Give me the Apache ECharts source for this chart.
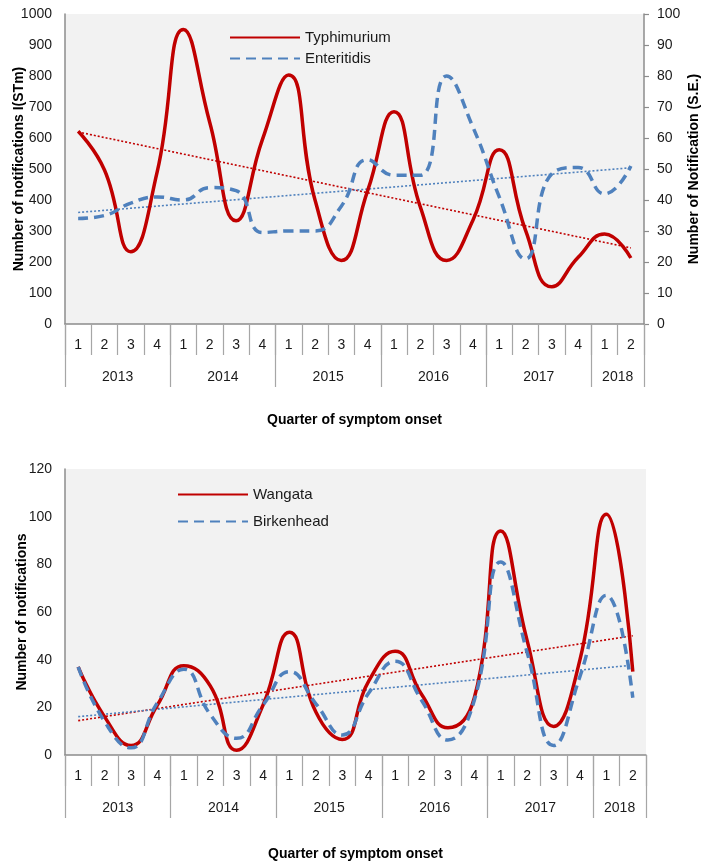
<!DOCTYPE html>
<html><head><meta charset="utf-8">
<script src="https://cdn.jsdelivr.net/npm/echarts@6/dist/echarts.min.js"></script>
<style>html,body{margin:0;padding:0;background:#fff}#c{width:714px;height:863px}</style>
</head><body><div id="c"></div>
<script>
// ---- data ----
const quarters = ['1','2','3','4','1','2','3','4','1','2','3','4','1','2','3','4','1','2','3','4','1','2'];
const years = ['2013','2014','2015','2016','2017','2018'];
const quartersPerYear = [4,4,4,4,4,2];

const typhimurium = [622,497,233,490,950,650,333,595,803,400,205,430,685,378,205,335,562,302,120,215,290,213];
const enteritidis = [34,35,39,41,40,44,43,29.5,30,30,38,53,48,48,80,63.5,41,21,48.5,50.5,42,51];
const wangata     = [37,16,4,21,37.5,29,2,21,51.5,18,6.5,31,43.5,25.5,11.4,24,94,48,12,40,101,35];
const birkenhead  = [37,14,3,22,36,17,7,21,35,21.5,8.4,26,39.3,23,6.3,23,81,43,4,33,67,24];

// ---- helpers ----
const yearBounds = [0];
quartersPerYear.forEach(n => yearBounds.push(yearBounds[yearBounds.length-1] + n));
const yearCenters = quartersPerYear.map((n,i) => yearBounds[i] + n/2);

function trend(arr){
  const n = arr.length;
  let sx=0, sy=0, sxx=0, sxy=0;
  arr.forEach((y,i)=>{sx+=i; sy+=y; sxx+=i*i; sxy+=i*y;});
  const b = (n*sxy - sx*sy)/(n*sxx - sx*sx);
  const a = (sy - b*sx)/n;
  return [[0.5, a], [n-0.5, a + b*(n-1)]];
}

const FONT = 'Liberation Sans';
const axisGray = '#8c8c8c';
const tickGray = '#a6a6a6';
const labelColor = '#1a1a1a';
const RED = '#c00000';
const BLUE = '#4f81bd';
const TICK_FS = 14;

function quarterAxis(g){
  return {
    gridIndex: g, type: 'category', data: quarters, boundaryGap: true,
    axisLine: {lineStyle: {color: axisGray, width: 1.5}},
    axisTick: {show: true, interval: 0, length: 31, lineStyle: {color: tickGray, width: 1.2}},
    axisLabel: {interval: 0, margin: 14, fontSize: TICK_FS, fontFamily: FONT, color: labelColor},
    splitLine: {show: false}
  };
}
function yearAxis(g, gap){
  return {
    gridIndex: g, type: 'value', min: 0, max: yearBounds[yearBounds.length-1], position: 'bottom',
    axisLine: {show: false},
    splitLine: {show: false},
    axisTick: {show: true, customValues: yearBounds, length: 63, lineStyle: {color: tickGray, width: 1.2}},
    axisLabel: {show: true, customValues: yearCenters, margin: 46, fontSize: TICK_FS, fontFamily: FONT, color: labelColor,
      formatter: v => { const i = yearCenters.indexOf(v); return i >= 0 ? years[i] : ''; }},
    name: 'Quarter of symptom onset', nameLocation: 'middle', nameGap: gap,
    nameTextStyle: {fontSize: 14, fontWeight: 'bold', fontFamily: FONT, color: '#000'}
  };
}
function valAxis(g, max, interval, name, pos, gap, ticks){
  return {
    gridIndex: g, type: 'value', min: 0, max: max, interval: interval, position: pos,
    axisLine: {show: true, lineStyle: {color: axisGray, width: 1.5}},
    axisTick: {show: ticks, length: 5, lineStyle: {color: axisGray, width: 1.2}},
    splitLine: {show: false},
    axisLabel: {fontSize: TICK_FS, fontFamily: FONT, color: labelColor, margin: 13,
      formatter: v => String(v)},
    name: name, nameLocation: 'middle', nameGap: gap, nameMoveOverlap: false,
    nameTextStyle: {fontSize: 14, fontWeight: 'bold', fontFamily: FONT, color: '#000'}
  };
}
function mainLine(name, data, xi, yi, color, dashed){
  return {
    name: name, type: 'line', xAxisIndex: xi, yAxisIndex: yi, data: data,
    smooth: 0.5, symbol: 'none', z: 4,
    lineStyle: {color: color, width: 3.5, type: dashed ? [10, 6] : 'solid', cap: 'butt'},
    itemStyle: {color: color}
  };
}
function trendLine(data, xi, yi, color){
  return {
    type: 'line', xAxisIndex: xi, yAxisIndex: yi, data: trend(data),
    symbol: 'none', silent: true, z: 3,
    lineStyle: {color: color, width: 1.6, type: [2, 2]}
  };
}
const legendCommon = {
  orient: 'vertical', itemWidth: 70, itemHeight: 14,
  itemStyle: {color: 'rgba(0,0,0,0)', borderWidth: 0, opacity: 0},
  textStyle: {fontSize: 15, fontFamily: FONT, color: '#1a1a1a'}
};

const chart = echarts.init(document.getElementById('c'), null, {renderer: 'canvas'});
chart.setOption({
  backgroundColor: '#fff',
  animation: false,
  textStyle: {fontFamily: FONT},
  grid: [
    {left: 65, top: 14, width: 579, height: 310, show: true, backgroundColor: '#f2f2f2', borderWidth: 0, containLabel: false, outerBoundsMode: 'none'},
    {left: 65, top: 469, width: 581, height: 286, show: true, backgroundColor: '#f2f2f2', borderWidth: 0, containLabel: false, outerBoundsMode: 'none'}
  ],
  legend: [
    Object.assign({data: ['Typhimurium', 'Enteritidis'], left: 224, top: 25, itemGap: 6}, legendCommon),
    Object.assign({data: ['Wangata', 'Birkenhead'], left: 172, top: 482, itemGap: 12}, legendCommon)
  ],
  xAxis: [quarterAxis(0), yearAxis(0, 89), quarterAxis(1), yearAxis(1, 92)],
  yAxis: [
    valAxis(0, 1000, 100, 'Number of notifications I(STm)', 'left', 39, false),
    valAxis(0, 100, 10, 'Number of Notification (S.E.)', 'right', 43, true),
    valAxis(1, 120, 20, 'Number of notifications', 'left', 36, false)
  ],
  series: [
    mainLine('Typhimurium', typhimurium, 0, 0, RED, false),
    mainLine('Enteritidis', enteritidis, 0, 1, BLUE, true),
    trendLine(typhimurium, 1, 0, RED),
    trendLine(enteritidis, 1, 1, BLUE),
    mainLine('Wangata', wangata, 2, 2, RED, false),
    mainLine('Birkenhead', birkenhead, 2, 2, BLUE, true),
    trendLine(wangata, 3, 2, RED),
    trendLine(birkenhead, 3, 2, BLUE)
  ]
});
</script>
</body></html>
